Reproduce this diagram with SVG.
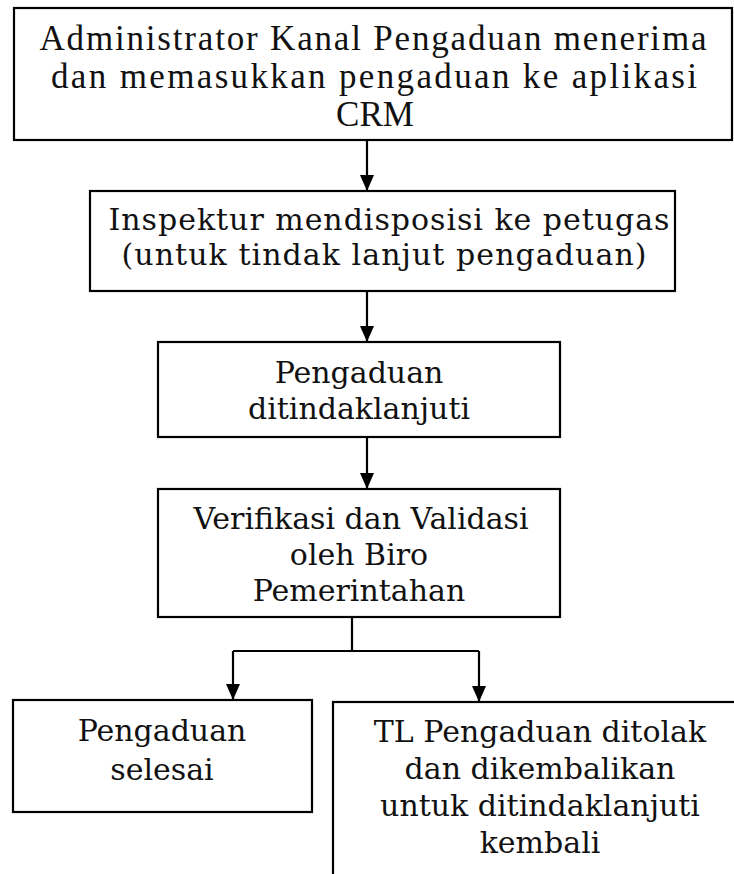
<svg xmlns="http://www.w3.org/2000/svg" width="734" height="874" viewBox="0 0 734 874">
<style>
.box{fill:#fff;stroke:#000;stroke-width:2.2}
.t1{font-family:"Liberation Serif","Times New Roman",serif;font-size:35px;fill:#111;text-anchor:middle}
.t2{font-family:"DejaVu Serif","Century Schoolbook",serif;font-size:30px;fill:#111;text-anchor:middle}
.conn{fill:none;stroke:#000;stroke-width:2.2}
</style>
<defs>
<marker id="arr" viewBox="0 0 16 14" refX="16" refY="7" markerWidth="16" markerHeight="14" markerUnits="userSpaceOnUse" orient="auto">
<path d="M0,0 L16,7 L0,14 Z" fill="#000"/>
</marker>
</defs>
<rect width="734" height="874" fill="#fff"/>
<g id="n1">
<rect class="box" x="14" y="8" width="718" height="132"/>
<text class="t1" x="373" y="50" textLength="667">Administrator Kanal Pengaduan menerima</text>
<text class="t1" x="374" y="88" textLength="646">dan memasukkan pengaduan ke aplikasi</text>
<text class="t1" x="375" y="126">CRM</text>
</g>
<g id="n2">
<rect class="box" x="90" y="191" width="585" height="100"/>
<text class="t2" x="389" y="230" textLength="561">Inspektur mendisposisi ke petugas</text>
<text class="t2" x="384" y="265" textLength="525">(untuk tindak lanjut pengaduan)</text>
</g>
<g id="n3">
<rect class="box" x="158" y="342" width="402" height="95"/>
<text class="t2" x="359" y="383">Pengaduan</text>
<text class="t2" x="359" y="419">ditindaklanjuti</text>
</g>
<g id="n4">
<rect class="box" x="158" y="489" width="402" height="128"/>
<text class="t2" x="361" y="529">Verifikasi dan Validasi</text>
<text class="t2" x="359" y="565">oleh Biro</text>
<text class="t2" x="359" y="601">Pemerintahan</text>
</g>
<g id="n5">
<rect class="box" x="13" y="700" width="299" height="112"/>
<text class="t2" x="162" y="741">Pengaduan</text>
<text class="t2" x="162" y="780">selesai</text>
</g>
<g id="n6">
<rect class="box" x="333" y="702" width="413" height="200"/>
<text class="t2" x="540" y="742">TL Pengaduan ditolak</text>
<text class="t2" x="540" y="779">dan dikembalikan</text>
<text class="t2" x="540" y="816">untuk ditindaklanjuti</text>
<text class="t2" x="540" y="853">kembali</text>
</g>
<g id="connectors">
<line class="conn" x1="367" y1="140" x2="367" y2="191" marker-end="url(#arr)"/>
<line class="conn" x1="367" y1="291" x2="367" y2="342" marker-end="url(#arr)"/>
<line class="conn" x1="367" y1="437" x2="367" y2="489" marker-end="url(#arr)"/>
<path class="conn" d="M352,617 V651 M233,651 H479"/>
<line class="conn" x1="233" y1="651" x2="233" y2="700" marker-end="url(#arr)"/>
<line class="conn" x1="479" y1="651" x2="479" y2="702" marker-end="url(#arr)"/>
</g>
</svg>
